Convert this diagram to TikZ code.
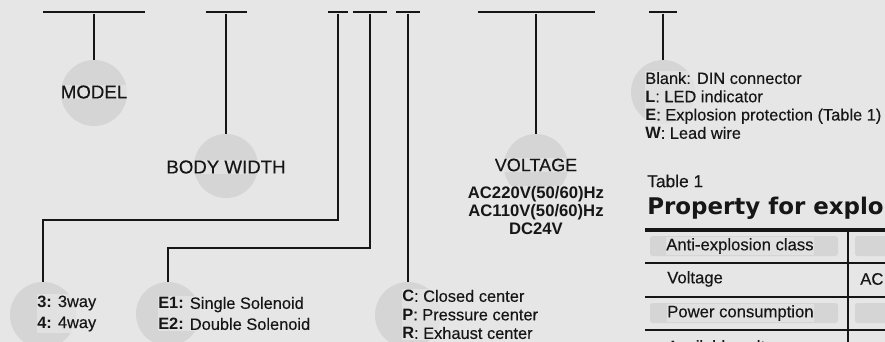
\documentclass[tikz,border=0pt]{standalone}
\usepackage{fontspec}
\setmainfont{Liberation Sans}[UprightFeatures={FakeBold=0.3}]
\newfontfamily\dejavu{DejaVu Sans}
\definecolor{bgc}{HTML}{E6E6E6}
\definecolor{circc}{HTML}{D5D5D5}
\definecolor{ink}{HTML}{161616}
\begin{document}
\begin{tikzpicture}[x=0.75pt,y=-0.75pt,
  bar/.style={fill=ink, draw=none, inner sep=0pt, minimum height=2pt},
  disc/.style={circle, fill=circc, draw=none, inner sep=0pt},
  link/.style={draw=ink, line width=1.5pt},
  lbl/.style={fill=bgc, fill opacity=0.75, text opacity=1, text=ink, inner sep=0.5pt},
  big/.style={lbl, font=\fontsize{14}{16}\selectfont},
  small/.style={lbl, font=\fontsize{12.3}{13.9}\selectfont, align=left, anchor=west, inner xsep=0pt, inner ysep=1pt},
  band/.style={fill=circc, rounded corners=2pt},
  rule/.style={draw=ink, line width=1.5pt},
]
\useasboundingbox (0,0) rectangle (885,342);
\clip (0,0) rectangle (885,342);
\fill[bgc] (0,0) rectangle (885,342);

% top bars
\node[bar, minimum width=76.5pt] (b1) at (94,12) {};
\node[bar, minimum width=30.75pt] (b2) at (226,12) {};
\node[bar, minimum width=15pt] (ba) at (338,12) {};
\node[bar, minimum width=25.5pt] (bb) at (370,12) {};
\node[bar, minimum width=18pt] (bc) at (408,12) {};
\node[bar, minimum width=87.75pt] (bv) at (536,12) {};
\node[bar, minimum width=21pt] (bo) at (663,12) {};

% discs
\node[disc, minimum size=49.5pt] (mc) at (94,93) {};
\node[disc, minimum size=48pt] (bw) at (226,166) {};
\node[disc, minimum size=48pt] (vo) at (536,166) {};
\node[disc, minimum size=48pt] (op) at (663,92) {};
\node[disc, minimum size=49.5pt] (w3) at (43,315) {};
\node[disc, minimum size=48pt] (e1) at (168,314) {};
\node[disc, minimum size=49.5pt] (cc) at (408,315) {};

% connectors
\coordinate (k1) at (338,220);
\coordinate (k2) at (370,248);
\draw[link] (b1.south) -- (mc.north);
\draw[link] (b2.south) -- (bw.north);
\draw[link] (bv.south) -- (vo.north);
\draw[link] (bo.south) -- (op.north);
\draw[link] (ba.south) -- (k1) -| (w3.north);
\draw[link] (bb.south) -- (k2) -| (e1.north);
\draw[link] (bc.south) -- (cc.north);

% labels
\node[big] (tm) at (94,92) {MODEL};
\node[big] (tb) at (226,167) {BODY WIDTH};
\node[lbl, font=\fontsize{13.5}{16}\selectfont] (tv) at (536,165) {VOLTAGE};
\node[lbl, font=\bfseries\fontsize{12.5}{13.5}\selectfont, align=center] (tvl) at (536,211)
  {AC220V(50/60)Hz\\AC110V(50/60)Hz\\DC24V};
\node[small, font=\fontsize{12.3}{13.7}\selectfont] (to) at (645,105.5)
  {Blank: DIN connector\\\textbf{L}: LED indicator\\\textbf{E}: Explosion protection (Table 1)\\\textbf{W}: Lead wire};
\node[small, font=\fontsize{12.3}{15.75}\selectfont] (tw) at (37,313.5)
  {\textbf{3:} 3way\\\textbf{4:} 4way};
\node[small, font=\fontsize{12.3}{15.75}\selectfont] (te) at (158,313.5)
  {\textbf{E1:} Single Solenoid\\\textbf{E2:} Double Solenoid};
\node[small, font=\fontsize{12.3}{13.9}\selectfont] (tc) at (402,314.5)
  {\textbf{C}: Closed center\\\textbf{P}: Pressure center\\\textbf{R}: Exhaust center};

% table
\node[lbl, anchor=west, inner xsep=0pt, font=\fontsize{13}{15}\selectfont] (tt) at (647,181) {Table 1};
\node[anchor=west, inner sep=0pt, text=ink, font=\dejavu\bfseries\fontsize{17.2}{20}\selectfont] (tp) at (647,208) {Property for explo};
\fill[band] (650,236) rectangle (838,256);
\fill[band] (855,236) rectangle (895,256);
\fill[band] (650,303) rectangle (838,323);
\fill[band] (855,303) rectangle (895,323);
\draw[draw=ink, line width=2.4pt] (645,230) -- (890,230);
\draw[rule] (645,263) -- (890,263);
\draw[rule] (645,297) -- (890,297);
\draw[rule] (645,330) -- (890,330);
\draw[rule] (848,229) -- (848,345);
\node[small, font=\fontsize{12.5}{14}\selectfont] (r1) at (666,246) {Anti-explosion class};
\node[small, font=\fontsize{12.5}{14}\selectfont] (r2) at (667,279) {Voltage};
\node[small, font=\fontsize{12.5}{14}\selectfont] (r2b) at (860,279) {AC};
\node[small, font=\fontsize{12.5}{14}\selectfont] (r3) at (667,313) {Power consumption};
\node[small, font=\fontsize{12.5}{14}\selectfont] (r4) at (667,348) {Available voltage range};
\end{tikzpicture}
\end{document}
